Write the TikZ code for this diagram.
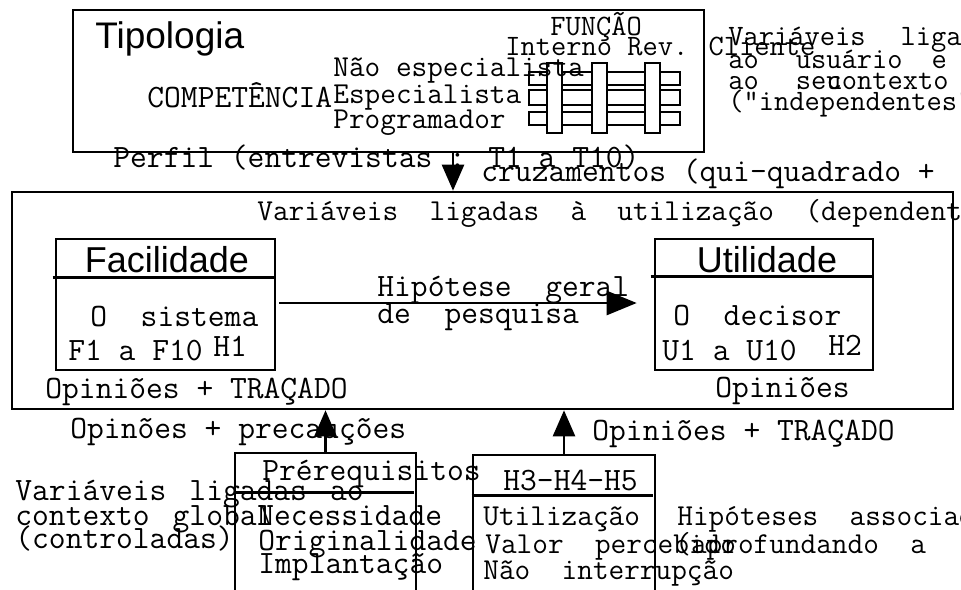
\documentclass[tikz,border=0pt]{standalone}
\usepackage{fontspec}
\setmainfont{Liberation Serif}
\setsansfont{Liberation Sans}
\usepackage{tikz}
\usetikzlibrary{arrows.meta,positioning}

\tikzset{
  lbl/.style={font=\ttfamily\fontsize{16.3}{18}\selectfont, inner sep=0pt, anchor=base west},
  lblsm/.style={lbl, font=\ttfamily\fontsize{15.2}{17}\selectfont},
  lblxs/.style={lbl, font=\ttfamily\fontsize{14.8}{17}\selectfont},
  ttl/.style={font=\sffamily\fontsize{18}{20}\selectfont, inner sep=0pt, anchor=base},
  frame/.style={draw, line width=1.3pt, inner sep=0pt},
  bar/.style={draw, line width=1pt, fill=white},
  arr/.style={-{Triangle[length=13pt,width=11pt]}, line width=1.3pt},
}

\begin{document}
\begin{tikzpicture}[x=0.5pt, y=-0.5pt]
\clip (0,0) rectangle (961,589);

% boxes
\node[frame, minimum width=315.5pt, minimum height=71pt] (tipo) at (388.5,81) {};
\node[frame, minimum width=470.5pt, minimum height=108.5pt] (main) at (482.5,300.5) {};
\node[frame, minimum width=109.5pt, minimum height=65.5pt] (fac) at (165.5,304.5) {};
\node[frame, minimum width=109pt, minimum height=65.5pt] (uti) at (764,304.5) {};
\node[frame, minimum width=90.5pt, minimum height=83.5pt] (pre) at (325.5,536.5) {};
\node[frame, minimum width=91pt, minimum height=82.5pt] (hip) at (564,537.5) {};

\draw[line width=1.3pt] ([shift={(-2,40)}]fac.north west) -- ([shift={(0,40)}]fac.north east);
\draw[line width=1.3pt] ([shift={(-3,39)}]uti.north west) -- ([shift={(0,39)}]uti.north east);
\draw[line width=1.3pt] ([shift={(0,41)}]pre.north west) -- ([shift={(-3,41)}]pre.north east);
\draw[line width=1.3pt] ([shift={(0,42)}]hip.north west) -- ([shift={(-3,42)}]hip.north east);

% grid competencia x funcao
\foreach \ya/\yb in {72/85, 90/105, 112/125}
  \draw[bar] (529,\ya) rectangle (680,\yb);
\foreach \xa in {547, 592, 645}
  \draw[bar] (\xa,63) rectangle (\xa+15,133);

% top box
\node[ttl, anchor=base west, font=\sffamily\fontsize{18.5}{20}\selectfont] (tipt) at (95,48) {Tipologia};
\node[lbl] (comp) at (147,107) {COMPETÊNCIA};
\node[lblsm] (nesp) at (333,76) {Não especialista};
\node[lblsm] (esp) at (333,103) {Especialista};
\node[lblsm] (prog) at (333,128) {Programador};
\node[lblxs, anchor=base] (func) at (596,35) {FUNÇÃO};
\node[lblxs] (fcol) at (505,55) {Interno Rev. Cliente};

\node[lblxs] (ind1) at (728,45) {Variáveis\hspace{17.5pt}ligadas};
\node[lblxs] (ind2) at (728,68) {ao\hspace{18.5pt}usuário\hspace{14.5pt}e};
\node[lblxs] (ind3) at (728,89) {ao\hspace{18.5pt}seu\hspace{-7.5pt}contexto};
\node[lblxs] (ind4) at (728,110) {("independentes")};

% between top and main
\coordinate (perfx) at (453,0);
\node[lbl] (perf) at (113,167) {Perfil (entrevistas : T1 a T10)};
\node[lbl] (cruz) at (481,181) {cruzamentos (qui-quadrado +};
\draw[arr] (perfx |- tipo.south) -- (perfx |- main.north);

% main box
\node[lblsm] (dep) at (257,220) {Variáveis~~ligadas~~à~~utilização~~(dependentes)};
\node[ttl] (fact) at (167,272) {Facilidade};
\node[lbl] (facs) at (90,326) {O~~sistema};
\node[lbl] (facf) at (68,360) {F1 a F10};
\node[lbl] (fach) at (213,356) {H1};
\node[ttl] (utit) at (767,272) {Utilidade};
\node[lbl] (utid) at (673,325) {O~~decisor};
\node[lbl] (utiu) at (662,360) {U1 a U10};
\node[lbl] (utih) at (828,355) {H2};
\node[lbl] (hg1) at (377,296) {Hipótese~~geral};
\node[lbl] (hg2) at (377,323) {de~~pesquisa};
\draw[arr, -{Triangle[length=15pt,width=12pt]}, shorten <=1.5pt, shorten >=8.5pt] (fac.east |- 0,303) -- (uti.west |- 0,303);
\node[lbl] (opfa) at (45,398) {Opiniões + TRAÇADO};
\node[lbl] (oput) at (715,397) {Opiniões};

% bottom
\node[lbl] (opre) at (70,438) {Opinões + precauções};
\node[lbl] (ophi) at (592,440) {Opiniões + TRAÇADO};
\draw[arr] (pre.north) -- (pre.north |- main.south);
\draw[arr] (hip.north) -- (hip.north |- main.south);

\node[lbl] (ctx1) at (15,500) {Variáveis\hspace{11.5pt}ligadas\hspace{11.5pt}ao};
\node[lbl] (ctx2) at (15,525) {contexto\hspace{11.5pt}global};
\node[lbl] (ctx3) at (15,548) {(controladas)};

\node[lbl] (pret) at (262,480) {Prérequisitos};
\node[lbl] (pre1) at (257,525) {Necessidade};
\node[lbl] (pre2) at (258,550) {Originalidade};
\node[lbl] (pre3) at (258,573) {Implantação};

\node[lbl] (hipt) at (503,490) {H3-H4-H5};
\node[lblsm] (hip1) at (483,525) {Utilização};
\node[lblsm] (hip2) at (485,553) {Valor~~percebido};
\node[lblsm] (hip3) at (483,579) {Não~~interrupção};
\node[lblsm] (ass1) at (677,525) {Hipóteses~~associadas};
\node[lblsm] (ass2) at (675,553) {(aprofundando~~a};
\end{tikzpicture}
\end{document}
